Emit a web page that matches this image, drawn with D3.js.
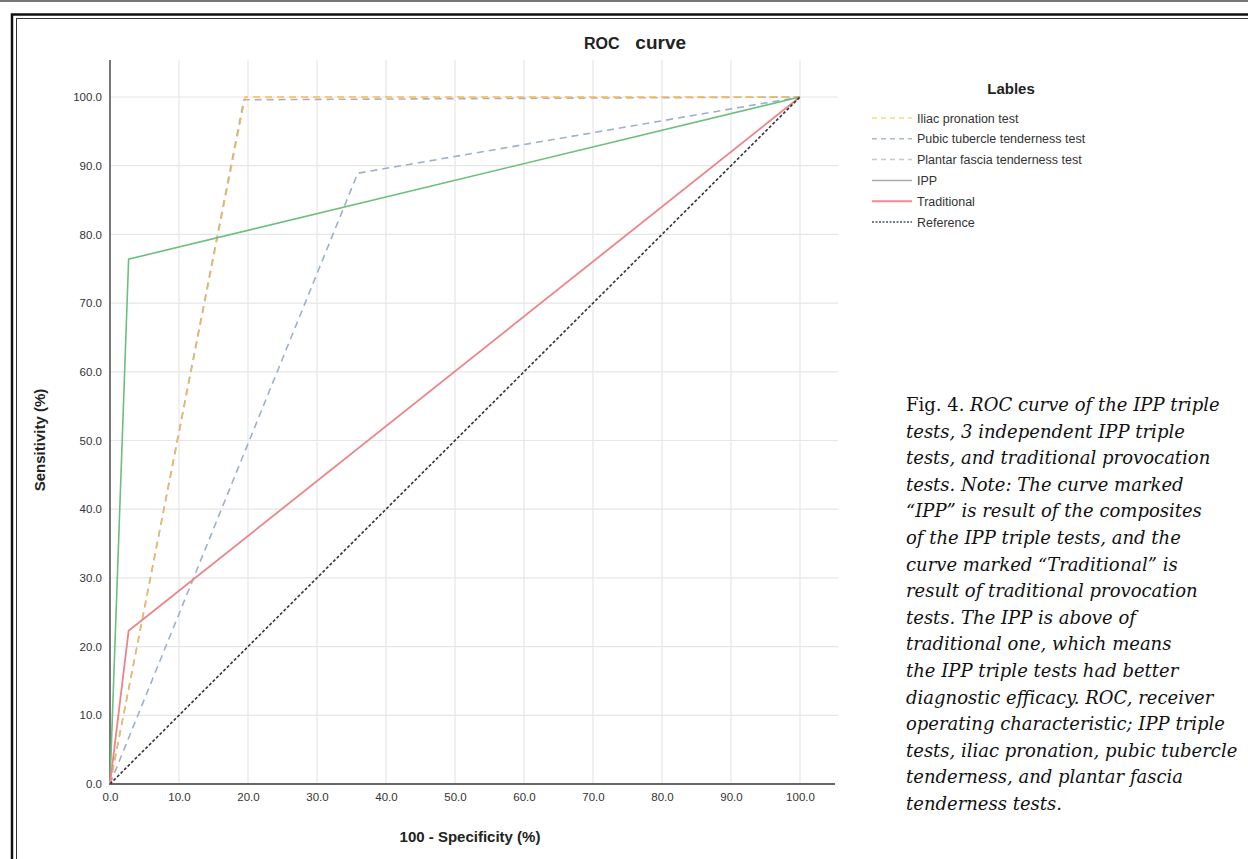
<!DOCTYPE html>
<html>
<head>
<meta charset="utf-8">
<script src="https://cdn.jsdelivr.net/npm/d3@7"></script>
<style>
  body { margin: 0; background: #fff; }
  svg { display: block; }
</style>
</head>
<body>
<svg id="chart" width="1248" height="859"></svg>
<script>
// ROC points, [100 - specificity, sensitivity]
var iliac = [[0, 0], [19.6, 100], [100, 100]];
var pubic = [[0, 0], [35.9, 88.9], [100, 100]];
var plantar = [[0, 0], [19.4, 99.6], [100, 100]];
var ipp = [[0, 0], [2.7, 76.4], [100, 100]];
var traditional = [[0, 0], [2.7, 22.3], [100, 100]];
var reference = [[0, 0], [100, 100]];

var xTicks = [0, 10, 20, 30, 40, 50, 60, 70, 80, 90, 100];
var yTicks = [0, 10, 20, 30, 40, 50, 60, 70, 80, 90, 100];

var legendLabels = ['Iliac pronation test', 'Pubic tubercle tenderness test',
  'Plantar fascia tenderness test', 'IPP', 'Traditional', 'Reference'];

var captionLines = [
  [['Fig. 4. ', false], ['ROC curve of the IPP triple', true]],
  [['tests, 3 independent IPP triple', true]],
  [['tests, and traditional provocation', true]],
  [['tests. Note: The curve marked', true]],
  [['\u201cIPP\u201d is result of the composites', true]],
  [['of the IPP triple tests, and the', true]],
  [['curve marked \u201cTraditional\u201d is', true]],
  [['result of traditional provocation', true]],
  [['tests. The IPP is above of', true]],
  [['traditional one, which means', true]],
  [['the IPP triple tests had better', true]],
  [['diagnostic efficacy. ROC, receiver', true]],
  [['operating characteristic; IPP triple', true]],
  [['tests, iliac pronation, pubic tubercle', true]],
  [['tenderness, and plantar fascia', true]],
  [['tenderness tests.', true]]
];

var svg = d3.select('#chart');

// page frame
svg.append('line').attr('x1', 0).attr('x2', 1248).attr('y1', 1).attr('y2', 1)
  .attr('stroke', '#777').attr('stroke-width', 2);
svg.append('rect').attr('x', 12).attr('y', 14.5).attr('width', 1260).attr('height', 900)
  .attr('fill', 'none').attr('stroke', '#111').attr('stroke-width', 2.5);
svg.append('rect').attr('x', 16.5).attr('y', 18.5).attr('width', 1260).attr('height', 900)
  .attr('fill', 'none').attr('stroke', '#333').attr('stroke-width', 1);

var x = d3.scaleLinear().domain([0, 100]).range([110, 800]);
var y = d3.scaleLinear().domain([0, 100]).range([784, 97]);

var plotTop = 60, plotRight = 838;

// grid
svg.append('g').selectAll('line').data(xTicks.slice(1)).enter().append('line')
  .attr('x1', x).attr('x2', x).attr('y1', plotTop).attr('y2', 784)
  .attr('stroke', '#e6e6e6').attr('stroke-width', 1.2);
svg.append('g').selectAll('line').data(yTicks.slice(1)).enter().append('line')
  .attr('x1', 110).attr('x2', plotRight).attr('y1', y).attr('y2', y)
  .attr('stroke', '#e6e6e6').attr('stroke-width', 1.2);

// axes
var fmt = d3.format('.1f');
var xAxis = svg.append('g').attr('transform', 'translate(0,784)')
  .call(d3.axisBottom(x).tickValues(xTicks).tickFormat(fmt).tickSize(0).tickPadding(9));
var yAxis = svg.append('g').attr('transform', 'translate(110,0)')
  .call(d3.axisLeft(y).tickValues(yTicks).tickFormat(fmt).tickSize(0).tickPadding(8));
[xAxis, yAxis].forEach(function (a) {
  a.select('.domain').remove();
  a.selectAll('text').attr('font-family', 'Liberation Sans, Arial, sans-serif')
    .attr('font-size', 11.5).attr('fill', '#333');
});
svg.append('line').attr('x1', 110).attr('x2', 110).attr('y1', plotTop).attr('y2', 785)
  .attr('stroke', '#777').attr('stroke-width', 2);
svg.append('line').attr('x1', 109).attr('x2', 835).attr('y1', 784).attr('y2', 784)
  .attr('stroke', '#666').attr('stroke-width', 2.2);

// curves
var line = d3.line().x(function (d) { return x(d[0]); }).y(function (d) { return y(d[1]); });
var series = [
  { data: plantar, color: '#b0b0b0', dash: '7,5', width: 1.6 },
  { data: iliac, color: '#f2bb60', dash: '7,5', width: 1.4 },
  { data: pubic, color: '#9cb0d0', dash: '7,5', width: 1.6 },
  { data: ipp, color: '#6cbf7c', dash: null, width: 1.6 },
  { data: traditional, color: '#ec8589', dash: null, width: 1.8 },
  { data: reference, color: '#333', dash: '3,2', width: 1.6 }
];
svg.append('g').selectAll('path').data(series).enter().append('path')
  .attr('d', function (s) { return line(s.data); })
  .attr('fill', 'none')
  .attr('stroke', function (s) { return s.color; })
  .attr('stroke-width', function (s) { return s.width; })
  .attr('stroke-dasharray', function (s) { return s.dash; });

// titles
svg.append('text').attr('x', 635).attr('y', 49).attr('text-anchor', 'middle')
  .attr('font-family', 'Liberation Sans, Arial, sans-serif').attr('fill', '#222')
  .style('white-space', 'pre')
  .selectAll('tspan').data([['ROC', 16], ['   curve', 19]]).enter().append('tspan')
  .attr('font-size', function (d) { return d[1]; })
  .attr('font-weight', 'bold')
  .text(function (d) { return d[0]; });

svg.append('text').attr('x', 470).attr('y', 842).attr('text-anchor', 'middle')
  .attr('font-family', 'Liberation Sans, Arial, sans-serif').attr('font-size', 15)
  .attr('font-weight', 'bold').attr('fill', '#222').text('100 - Specificity (%)');
svg.append('text').attr('transform', 'translate(45,440) rotate(-90)').attr('text-anchor', 'middle')
  .attr('font-family', 'Liberation Sans, Arial, sans-serif').attr('font-size', 15)
  .attr('font-weight', 'bold').attr('fill', '#222').text('Sensitivity (%)');

// legend
svg.append('text').attr('x', 1011).attr('y', 94).attr('text-anchor', 'middle')
  .attr('font-family', 'Liberation Sans, Arial, sans-serif').attr('font-size', 15)
  .attr('font-weight', 'bold').attr('fill', '#222').text('Lables');
var legendColors = ['#f4df80', '#aab8d0', '#c8c8c8', '#aaa', '#ef8a95', '#456'];
var legendDash = ['5,4', '5,4', '5,4', null, null, '2,1.5'];
var lg = svg.append('g').selectAll('g').data(legendLabels).enter().append('g')
  .attr('transform', function (d, i) { return 'translate(872,' + (118 + i * 20.8) + ')'; });
lg.append('line').attr('x1', 0).attr('x2', 40).attr('y1', 0).attr('y2', 0)
  .attr('stroke', function (d, i) { return legendColors[i]; })
  .attr('stroke-width', function (d, i) { return i === 4 ? 2 : 1.5; })
  .attr('stroke-dasharray', function (d, i) { return legendDash[i]; });
lg.append('text').attr('x', 45).attr('y', 4.5)
  .attr('font-family', 'Liberation Sans, Arial, sans-serif').attr('font-size', 12.5)
  .attr('fill', '#333').text(function (d) { return d; });

// caption
var cap = svg.append('g').selectAll('text').data(captionLines).enter().append('text')
  .attr('x', 906).attr('y', function (d, i) { return 411 + i * 26.6; })
  .attr('font-family', 'DejaVu Serif, serif').attr('font-size', 18)
  .attr('fill', '#111');
cap.selectAll('tspan').data(function (d) { return d; }).enter().append('tspan')
  .attr('font-style', function (d) { return d[1] ? 'italic' : 'normal'; })
  .text(function (d) { return d[0]; });
</script>
</body>
</html>
